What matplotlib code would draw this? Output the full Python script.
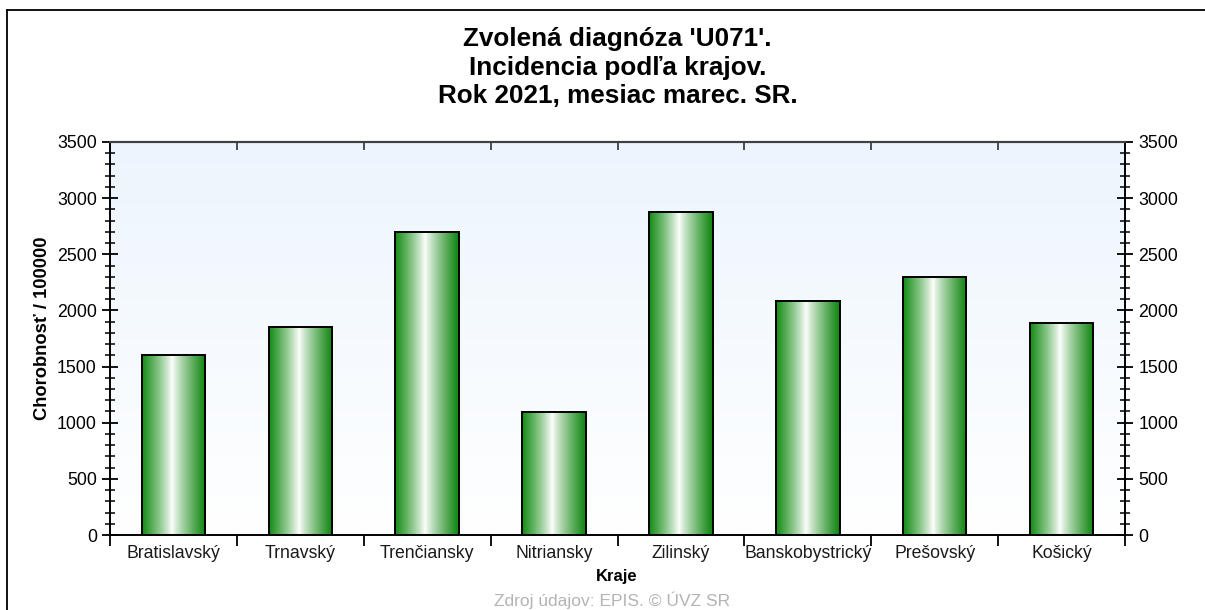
import numpy as np
import matplotlib
matplotlib.use("Agg")
import matplotlib.pyplot as plt
from matplotlib.lines import Line2D
from matplotlib.colors import LinearSegmentedColormap
from matplotlib.ticker import MultipleLocator

# ---- data ----
categories = ["Bratislavský", "Trnavský", "Trenčiansky", "Nitriansky",
              "Zilinský", "Banskobystrický", "Prešovský", "Košický"]
values = [1603, 1852, 2698, 1095, 2876, 2084, 2297, 1888]
title_lines = ["Zvolená diagnóza 'U071'.", "Incidencia podľa krajov.",
               "Rok 2021, mesiac marec. SR."]
y_label = "Chorobnosť / 100000"
x_label = "Kraje"
source = "Zdroj údajov: EPIS. © ÚVZ SR"
y_max = 3500
y_major = 500
y_minor = 100

plt.rcParams['font.family'] = ['Liberation Sans', 'DejaVu Sans']

W, H = 1205, 610
fig = plt.figure(figsize=(W / 100, H / 100), dpi=100)
fig.patch.set_facecolor('white')

ax_l, ax_r, ax_t, ax_b = 110, 1125, 142, 535
ax = fig.add_axes([ax_l / W, 1 - ax_b / H, (ax_r - ax_l) / W, (ax_b - ax_t) / H])

n = len(categories)
x = np.arange(n)

# background gradient (light blue top -> white bottom)
bg_cmap = LinearSegmentedColormap.from_list("bg", ["#ffffff", "#ecf5fd"])
bg = np.linspace(0, 1, 256).reshape(-1, 1)
ax.imshow(bg, cmap=bg_cmap, extent=[0, 1, 0, 1], transform=ax.transAxes,
          aspect='auto', origin='lower', zorder=0, interpolation='bilinear')

bars = ax.bar(x, values, width=0.5, facecolor='none', edgecolor='black',
              linewidth=1.4, zorder=3)

# bar gradient (green at edges, white in the middle)
greenL = np.array([0.08, 0.55, 0.08])
greenR = np.array([0.05, 0.52, 0.05])
t = np.linspace(0, 1, 200)
cols = []
for tt in t:
    d = abs(tt - 0.47) / (0.47 if tt < 0.47 else 0.53)
    f = d ** 0.85
    edge = greenL if tt < 0.47 else greenR
    cols.append((1 - f) * np.array([1, 1, 1]) + f * edge)
bar_cmap = LinearSegmentedColormap.from_list("bar", cols)
grad = np.linspace(0, 1, 200).reshape(1, -1)
for b in bars:
    x0, w, h = b.get_x(), b.get_width(), b.get_height()
    im = ax.imshow(grad, cmap=bar_cmap, extent=[x0, x0 + w, 0, h],
                   aspect='auto', zorder=2.5, interpolation='bilinear')
    im.set_clip_path(b)

ax.set_xlim(-0.5, n - 0.5)
ax.set_ylim(0, y_max)

# y ticks both sides
ax.yaxis.set_major_locator(MultipleLocator(y_major))
ax.yaxis.set_minor_locator(MultipleLocator(y_minor))
ax.tick_params(axis='y', which='major', direction='inout', length=11, width=1.3,
               left=True, right=True, labelleft=True, labelright=True,
               labelsize=12.8, pad=4, colors='black')
ax.tick_params(axis='y', which='minor', direction='inout', length=7, width=1.1,
               left=True, right=True)

# x ticks: boundaries (major, no labels), categories as minor labels
bounds = np.arange(-0.5, n, 1.0)
ax.set_xticks(bounds)
ax.set_xticklabels([""] * len(bounds))
ax.set_xticks(x, minor=True)
ax.set_xticklabels(categories, minor=True)
ax.tick_params(axis='x', which='major', direction='out', length=8, width=1.3,
               bottom=True, top=False)
ax.tick_params(axis='x', which='minor', length=0, labelsize=12.7, pad=7.5,
               labelcolor='#1a1a1a')

sec = ax.secondary_xaxis('top')
sec.set_xticks(bounds[1:-1])
sec.set_xticklabels([""] * (len(bounds) - 2))
sec.tick_params(direction='in', length=6, width=1.3, color='#404040')
sec.spines['top'].set_color('#404040')
sec.spines['top'].set_linewidth(1.5)

for s in ['left', 'right', 'bottom']:
    ax.spines[s].set_color('black')
    ax.spines[s].set_linewidth(1.4)
ax.spines['top'].set_color('#404040')
ax.spines['top'].set_linewidth(1.5)

# texts
cx = (ax_l + ax_r) / 2 / W
fig.text(cx, 1 - 67.5 / H, "\n".join(title_lines), ha='center', va='center',
         fontsize=18.8, fontweight='bold', linespacing=1.22, color='black')
fig.text(43 / W, 1 - 328 / H, y_label, rotation=90, ha='center', va='center',
         fontsize=13.2, fontweight='bold', color='black')
fig.text(617 / W, 1 - 577 / H, x_label, ha='center', va='center',
         fontsize=12, fontweight='bold', color='black')
fig.text(612 / W, 1 - 600 / H, source, ha='center', va='center',
         fontsize=12.5, color='#b4b4b4')

# outer frame (left and top lines visible)
fx, fy = 7.5 / W, 1 - 9.5 / H
fig.add_artist(Line2D([fx, fx], [0, fy], transform=fig.transFigure,
                      color='black', linewidth=1.3))
fig.add_artist(Line2D([fx, 1], [fy, fy], transform=fig.transFigure,
                      color='black', linewidth=1.3))

fig.savefig("out.png", dpi=100, facecolor='white')
